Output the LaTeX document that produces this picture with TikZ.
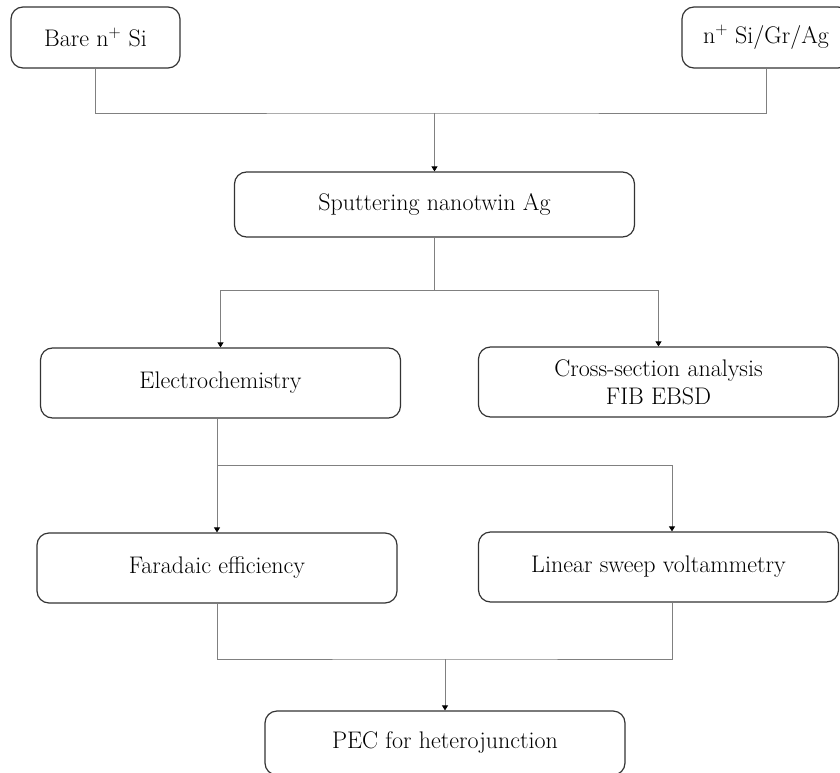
\documentclass[tikz,border=0pt]{standalone}
\usepackage{tikz}
\usetikzlibrary{arrows.meta,positioning}

\begin{document}
\begin{tikzpicture}[x=1pt,y=-1pt]
    % process flow for the nanotwin Ag samples
    \tikzset{stepbox/.style = {shape=rectangle,draw=black!80,rounded corners=12pt,line width=1.2pt,
        minimum width=360pt,minimum height=70pt,align=center,font=\fontsize{24}{28}\selectfont}}
    \tikzset{wire/.style = {draw=black!50,line width=0.8pt}}
    \tikzset{pre/.style = {wire,-{Triangle[length=5pt,width=6pt,color=black]}}}

    \useasboundingbox (0,0) rectangle (840,773);

    % samples
    \node[stepbox,minimum width=169pt,minimum height=61pt] (bare) at (95.5,37.5) {Bare n\textsuperscript{+} Si};
    \node[stepbox,minimum width=168pt,minimum height=61pt] (grag) at (766,37.5)  {n\textsuperscript{+} Si/Gr/Ag};
    \node[stepbox,minimum width=400pt,minimum height=65pt] (sputter) at (434.5,204.5) {Sputtering nanotwin Ag};

    % characterisation
    \node[stepbox] (echem) at (220.5,383) {Electrochemistry};
    \node[stepbox] (cross) at (658.5,382) {Cross-section analysis\\FIB EBSD};

    % measurements
    \node[stepbox] (fe)  at (217,568)   {Faradaic efficiency};
    \node[stepbox] (lsv) at (658.5,567) {Linear sweep voltammetry};
    \node[stepbox,minimum height=64pt] (pec) at (445,743) {PEC for heterojunction};

    % junctions
    \coordinate (j1) at (434.5,113);
    \coordinate (j2) at (434.5,290);
    \coordinate (j3) at (217,465);
    \coordinate (j4) at (445,659);

    \draw[wire] (bare.south) |- (j1) -| (grag.south);
    \draw[pre] (j1) -- (sputter.north);

    \draw[wire] (sputter.south) -- (j2);
    \draw[pre] (j2) -| (echem.north);
    \draw[pre] (j2) -| (cross.north);

    \draw[wire] (echem.south -| j3) -- (j3);
    \draw[pre] (j3) -- (fe.north);
    \draw[pre] (j3) -| ([xshift=13.5pt]lsv.north);

    \draw[wire] (fe.south) |- (j4) -| ([xshift=13.5pt]lsv.south);
    \draw[pre] (j4) -- (pec.north);
\end{tikzpicture}
\end{document}
